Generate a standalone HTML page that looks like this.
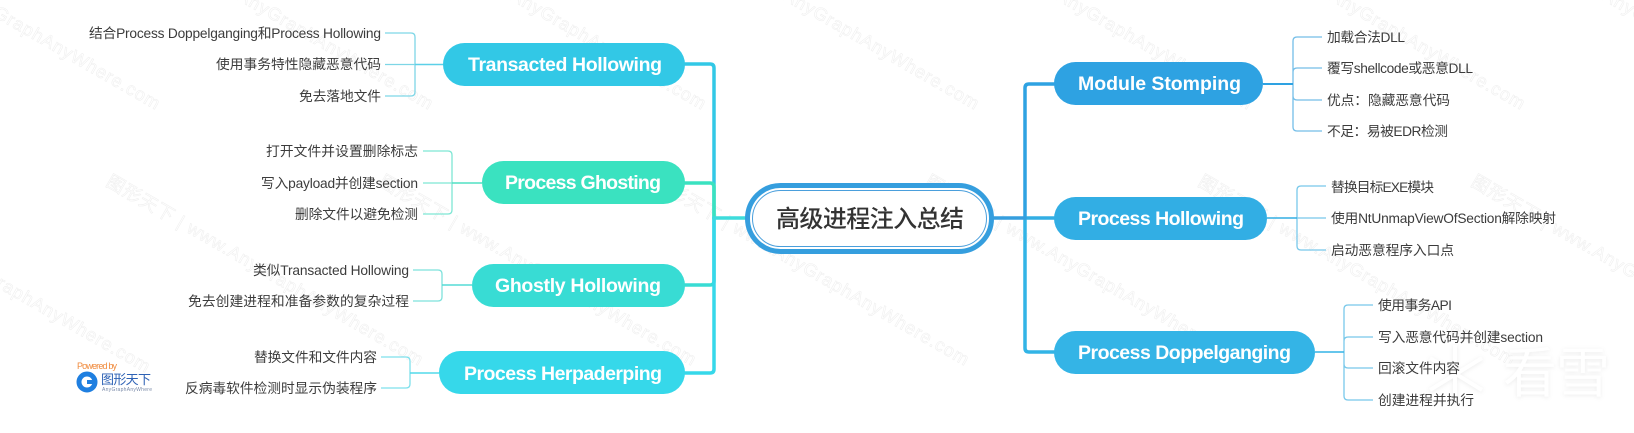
<!DOCTYPE html>
<html lang="zh"><head><meta charset="utf-8"><title>高级进程注入总结</title>
<style>
html,body{margin:0;padding:0;background:#fff;width:1634px;height:433px;overflow:hidden}
svg{display:block}
text{font-family:"Liberation Sans","Noto Sans CJK SC",sans-serif}
.l{font-size:13.75px;fill:#3c3c3c}
.n{font-size:19.5px;font-weight:bold;fill:#fff}
.w{font-size:18px;fill:#fff;stroke:#f0f0f0;stroke-width:.6}
.f{fill:none;stroke-width:3.5;stroke-linecap:round;stroke-linejoin:round}
.t{fill:none;stroke-width:1.3}
</style></head><body>
<svg xmlns="http://www.w3.org/2000/svg" width="1634" height="433" viewBox="0 0 1634 433">
<!-- watermarks -->
<g>
<text class="w" textLength="362" transform="translate(-168,192) rotate(30)">图形天下 | www.AnyGraphAnyWhere.com</text>
<text class="w" textLength="362" transform="translate(105,185) rotate(30)">图形天下 | www.AnyGraphAnyWhere.com</text>
<text class="w" textLength="362" transform="translate(378,185) rotate(30)">图形天下 | www.AnyGraphAnyWhere.com</text>
<text class="w" textLength="362" transform="translate(651,185) rotate(30)">图形天下 | www.AnyGraphAnyWhere.com</text>
<text class="w" textLength="362" transform="translate(924,185) rotate(30)">图形天下 | www.AnyGraphAnyWhere.com</text>
<text class="w" textLength="362" transform="translate(1197,185) rotate(30)">图形天下 | www.AnyGraphAnyWhere.com</text>
<text class="w" textLength="362" transform="translate(1470,185) rotate(30)">图形天下 | www.AnyGraphAnyWhere.com</text>
<text class="w" textLength="362" transform="translate(-158,-71) rotate(30)">图形天下 | www.AnyGraphAnyWhere.com</text>
<text class="w" textLength="362" transform="translate(115,-71) rotate(30)">图形天下 | www.AnyGraphAnyWhere.com</text>
<text class="w" textLength="362" transform="translate(388,-71) rotate(30)">图形天下 | www.AnyGraphAnyWhere.com</text>
<text class="w" textLength="362" transform="translate(661,-71) rotate(30)">图形天下 | www.AnyGraphAnyWhere.com</text>
<text class="w" textLength="362" transform="translate(934,-71) rotate(30)">图形天下 | www.AnyGraphAnyWhere.com</text>
<text class="w" textLength="362" transform="translate(1207,-71) rotate(30)">图形天下 | www.AnyGraphAnyWhere.com</text>
<text class="w" textLength="362" transform="translate(1480,-71) rotate(30)">图形天下 | www.AnyGraphAnyWhere.com</text>
</g>

<!-- 看雪 watermark -->
<g style="filter:drop-shadow(0 1px 2px #ececec)">
<g stroke="#fff" stroke-width="4" fill="none">
<path d="M1455 345V402M1430 358L1482 390M1482 358L1430 390"/>
</g>
<text x="1503" y="392" textLength="107" style="font-size:54px;fill:#fff">看雪</text>
</g>

<!-- trunks -->
<path class="f" stroke="#32c8e6" d="M714 218V68Q714 64 710 64H685"/>
<path class="f" stroke="#3ae2c0" d="M714 218V187Q714 183 710 183H685"/>
<path class="f" stroke="#38dcd4" d="M714 218V281Q714 285 710 285H685"/>
<path class="f" stroke="#36d8ea" d="M714 218V369Q714 373 710 373H685"/>
<path class="f" stroke="#3ddcdc" d="M714 218H745"/>
<path class="f" stroke="#32b4e6" d="M1025 218V348Q1025 352 1029 352H1054"/>
<path class="f" stroke="#2ea2e2" d="M1025 218V88Q1025 84 1029 84H1054"/>
<path class="f" stroke="#32aee4" d="M1025 218H1054"/>
<path class="f" stroke="#359ede" d="M994 218H1025"/>

<!-- left leaf connectors -->
<g class="t">
<path stroke="#7ed6e6" d="M385 33H411Q415 33 415 37V92Q415 96 411 96H385M385 64.500H415"/>
<path stroke="#5cd0e8" stroke-width="1.600" d="M415 64.500H443"/>
<path stroke="#7ee6d4" d="M423 151H448Q452 151 452 155V210Q452 214 448 214H423M423 183H452"/>
<path stroke="#50e0c4" stroke-width="1.600" d="M452 183H482"/>
<path stroke="#7ee2dc" d="M413 270H438Q442 270 442 274V297Q442 301 438 301H413"/>
<path stroke="#55dcd6" stroke-width="1.600" d="M442 285H472"/>
<path stroke="#7ee0ec" d="M381 357H406Q410 357 410 361V384Q410 388 406 388H381"/>
<path stroke="#52daea" stroke-width="1.600" d="M410 373H439"/>
</g>
<!-- right leaf connectors -->
<g class="t" stroke="#74bee8">
<path d="M1322 37H1297Q1293 37 1293 41V127Q1293 131 1297 131H1322M1322 68H1297Q1293 68 1293 72V96Q1293 100 1297 100H1322"/>
<path d="M1263 84H1293" stroke-width="2" stroke="#2ea2e2"/>
<path stroke="#78c8ea" d="M1326 186H1301Q1297 186 1297 190V246Q1297 250 1301 250H1326M1297 218H1326"/>
<path d="M1267 218H1297" stroke-width="1.500" stroke="#32aee4"/>
<path stroke="#78c8ea" d="M1373 305H1348Q1344 305 1344 309V396Q1344 400 1348 400H1373M1373 337H1348Q1344 337 1344 341V364Q1344 368 1348 368H1373"/>
<path d="M1315 352H1344" stroke-width="1.600" stroke="#34b4e6"/>
</g>

<!-- center -->
<rect x="747.500" y="185.500" width="244" height="66" rx="33" fill="#fff" stroke="#359ede" stroke-width="5"/>
<rect x="752.500" y="190.500" width="234" height="56" rx="28" fill="#fff" stroke="#4a9fdc" stroke-width="1"/>
<text x="776" y="227" textLength="188" style="font-size:24px;fill:#333;font-weight:500">高级进程注入总结</text>

<!-- main nodes -->
<rect x="443" y="43" width="242" height="43" rx="21.500" fill="#32c8e6"/>
<text class="n" x="468" y="71" textLength="194">Transacted Hollowing</text>
<rect x="482" y="161" width="203" height="43" rx="21.500" fill="#3ae2c0"/>
<text class="n" x="505" y="189" textLength="156">Process Ghosting</text>
<rect x="472" y="264" width="213" height="43" rx="21.500" fill="#38dcd4"/>
<text class="n" x="495" y="292" textLength="166">Ghostly Hollowing</text>
<rect x="439" y="351" width="246" height="43" rx="21.500" fill="#36d8ea"/>
<text class="n" x="464" y="380" textLength="198">Process Herpaderping</text>
<rect x="1054" y="62" width="209" height="43" rx="21.500" fill="#2ea2e2"/>
<text class="n" x="1078" y="90" textLength="163">Module Stomping</text>
<rect x="1054" y="197" width="213" height="43" rx="21.500" fill="#32aee4"/>
<text class="n" x="1078" y="225" textLength="166">Process Hollowing</text>
<rect x="1054" y="331" width="261" height="43" rx="21.500" fill="#34b4e6"/>
<text class="n" x="1078" y="359" textLength="213">Process Doppelganging</text>

<!-- left leaves -->
<text x="381" y="38" text-anchor="end" class="l" textLength="292">结合Process Doppelganging和Process Hollowing</text>
<text x="381" y="69" text-anchor="end" class="l" textLength="165">使用事务特性隐藏恶意代码</text>
<text x="381" y="101" text-anchor="end" class="l" textLength="82">免去落地文件</text>
<text x="418" y="156" text-anchor="end" class="l" textLength="152">打开文件并设置删除标志</text>
<text x="418" y="188" text-anchor="end" class="l" textLength="157">写入payload并创建section</text>
<text x="418" y="219" text-anchor="end" class="l" textLength="123">删除文件以避免检测</text>
<text x="409" y="275" text-anchor="end" class="l" textLength="156">类似Transacted Hollowing</text>
<text x="409" y="306" text-anchor="end" class="l" textLength="221">免去创建进程和准备参数的复杂过程</text>
<text x="377" y="362" text-anchor="end" class="l" textLength="123">替换文件和文件内容</text>
<text x="377" y="393" text-anchor="end" class="l" textLength="192">反病毒软件检测时显示伪装程序</text>
<!-- right leaves -->
<text class="l" x="1327" y="42" textLength="78">加载合法DLL</text>
<text class="l" x="1327" y="73" textLength="146">覆写shellcode或恶意DLL</text>
<text class="l" x="1327" y="105" textLength="123">优点：隐藏恶意代码</text>
<text class="l" x="1327" y="136" textLength="121">不足：易被EDR检测</text>
<text class="l" x="1331" y="192" textLength="103">替换目标EXE模块</text>
<text class="l" x="1331" y="223" textLength="225">使用NtUnmapViewOfSection解除映射</text>
<text class="l" x="1331" y="255" textLength="123">启动恶意程序入口点</text>
<text class="l" x="1378" y="310" textLength="74">使用事务API</text>
<text class="l" x="1378" y="342" textLength="165">写入恶意代码并创建section</text>
<text class="l" x="1378" y="373" textLength="82">回滚文件内容</text>
<text class="l" x="1378" y="405" textLength="96">创建进程并执行</text>

<!-- logo -->
<text x="77" y="369" textLength="40" style="font-size:9px;fill:#f08a3c">Powered by</text>
<circle cx="87" cy="382" r="8" fill="none" stroke="#1f7fe0" stroke-width="5"/>
<rect x="87" y="380" width="9" height="4" fill="#1f7fe0"/>
<text x="101" y="384" textLength="50" style="font-size:13px;fill:#2e62b5">图形天下</text>
<text x="102" y="391" textLength="50" style="font-size:5px;fill:#7a8aa8">AnyGraphAnyWhere</text>
</svg>
</body></html>
